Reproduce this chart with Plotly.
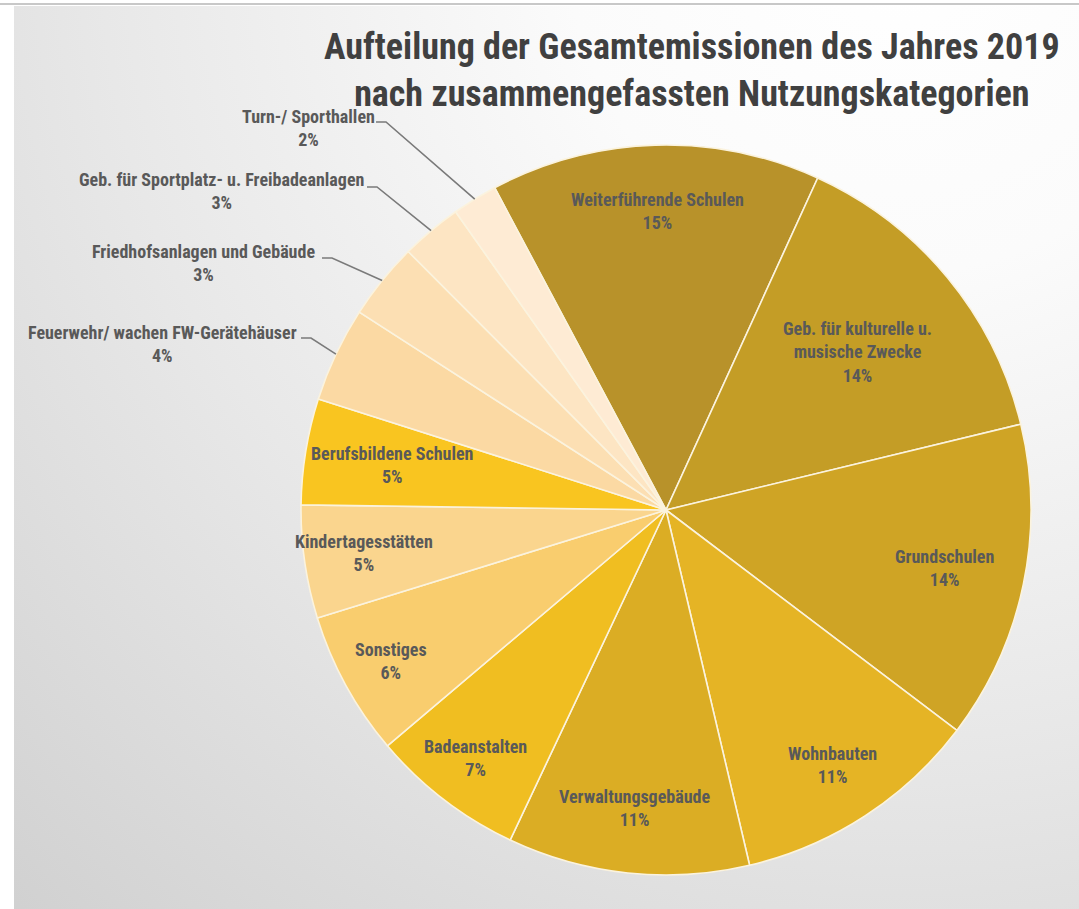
import math
import base64
import plotly.graph_objects as go

# ---------------- data ----------------
categories = [
    "Weiterführende Schulen",
    "Geb. für kulturelle u.<br>musische Zwecke",
    "Grundschulen",
    "Wohnbauten",
    "Verwaltungsgebäude",
    "Badeanstalten",
    "Sonstiges",
    "Kindertagesstätten",
    "Berufsbildene Schulen",
    "Feuerwehr/ wachen FW-Gerätehäuser",
    "Friedhofsanlagen und Gebäude",
    "Geb. für Sportplatz- u. Freibadeanlagen",
    "Turn-/ Sporthallen",
]
values = [14.6, 14.4, 14.1, 11.0, 10.7, 6.8, 6.4, 5.0, 4.7, 4.2, 3.4, 2.7, 2.0]

# ---------------- styles ----------------
colors = [
    "#B8922A", "#C49D26", "#CFA425", "#E5B425", "#DBAD24", "#F0BE21",
    "#F9CD6E", "#FAD58E", "#F9C520", "#FBD9A3", "#FCDFB3", "#FDE5C3", "#FEEBD4",
]
FONT = "Liberation Sans Narrow, Arial Narrow, Roboto Condensed, Liberation Sans, Arial, sans-serif"
W, H = 1079, 909
CX, CY, R = 666, 510, 365          # pie centre / radius in pixels (layout)
ROT = -28                          # start angle of the first slice (deg, clockwise from 12 o'clock)
LABEL_SIZE = 18

# radial position (fraction of radius) of inside labels
inside_r = [0.82, 0.68, 0.78, 0.835, 0.82, 0.855, 0.86, 0.835, 0.76]
# outside labels: text centre (px) and leader line start (px)
outside_pos = {
    9: ((162, 344), (301, 338)),
    10: ((203, 263), (322, 258)),
    11: ((221, 191), (367, 187)),
    12: ((308, 128), (376, 122)),
}


def px2paper(x, y):
    return x / W, 1 - y / H


total = sum(values)
angles = []
acc = ROT
for v in values:
    span = v / total * 360
    angles.append(acc + span / 2)
    acc += span

fig = go.Figure(
    go.Pie(
        labels=categories,
        values=values,
        sort=False,
        direction="clockwise",
        rotation=ROT,
        marker=dict(colors=colors, line=dict(color="#FBF3DE", width=1.6)),
        textinfo="none",
        hoverinfo="label+percent",
        showlegend=False,
        domain=dict(
            x=[(CX - R) / W, (CX + R) / W],
            y=[1 - (CY + R) / H, 1 - (CY - R) / H],
        ),
    )
)

label_font = dict(family=FONT, size=LABEL_SIZE, color="#595959", weight="bold")
annotations = []
shapes = []
for i, (lab, v, a) in enumerate(zip(categories, values, angles)):
    pct = round(v / total * 100)
    text = f"{lab}<br>{pct}%"
    rad = math.radians(a)
    if i < len(inside_r):
        r = inside_r[i] * R
        x, y = CX + r * math.sin(rad), CY - r * math.cos(rad)
        px, py = px2paper(x, y)
        annotations.append(dict(x=px, y=py, xref="paper", yref="paper", text=text,
                                showarrow=False, align="center",
                                xanchor="center", yanchor="middle", font=label_font))
    else:
        (tx, ty), (sx, sy) = outside_pos[i]
        px, py = px2paper(tx, ty)
        annotations.append(dict(x=px, y=py, xref="paper", yref="paper", text=text,
                                showarrow=False, align="center",
                                xanchor="center", yanchor="middle", font=label_font))
        ex, ey = CX + R * math.sin(rad), CY - R * math.cos(rad)
        p0 = px2paper(sx, sy)
        p1 = px2paper(sx + 10, sy)
        p2 = px2paper(ex, ey)
        shapes.append(dict(type="path", xref="paper", yref="paper",
                           path=f"M {p0[0]} {p0[1]} L {p1[0]} {p1[1]} L {p2[0]} {p2[1]}",
                           line=dict(color="#7A7A7A", width=1.6)))

# title
tx, ty = px2paper(692, 71)
annotations.append(dict(x=tx, y=ty, xref="paper", yref="paper",
                        text="Aufteilung der Gesamtemissionen des Jahres 2019<br>nach zusammengefassten Nutzungskategorien",
                        showarrow=False, align="center", xanchor="center", yanchor="middle",
                        font=dict(family=FONT, size=36, color="#404040", weight="bold")))

# background gradient (decoration)
svg = f"""<svg xmlns='http://www.w3.org/2000/svg' width='{W}' height='{H}' viewBox='0 0 {W} {H}'>
<defs><radialGradient id='g' gradientUnits='userSpaceOnUse' cx='900' cy='-60' r='1330'>
<stop offset='0' stop-color='#FFFFFF'/><stop offset='0.25' stop-color='#FBFBFB'/>
<stop offset='0.6' stop-color='#E8E8E8'/><stop offset='1' stop-color='#D0D0D0'/></radialGradient></defs>
<rect x='0' y='0' width='{W}' height='{H}' fill='#FFFFFF'/>
<rect x='14' y='6' width='{W-14}' height='{H-6}' fill='url(#g)'/>
<line x1='0' y1='4' x2='{W}' y2='4' stroke='#C8C8C8' stroke-width='2'/>
</svg>"""
uri = "data:image/svg+xml;base64," + base64.b64encode(svg.encode()).decode()

fig.update_layout(
    width=W, height=H,
    margin=dict(l=0, r=0, t=0, b=0),
    paper_bgcolor="white",
    plot_bgcolor="white",
    annotations=annotations,
    shapes=shapes,
    images=[dict(source=uri, xref="paper", yref="paper", x=0, y=1, sizex=1, sizey=1,
                 xanchor="left", yanchor="top", sizing="stretch", layer="below")],
)

fig.write_html("out.html",
               config={"displayModeBar": False},
               post_script="document.body.style.margin='0';document.body.style.overflow='hidden';")
